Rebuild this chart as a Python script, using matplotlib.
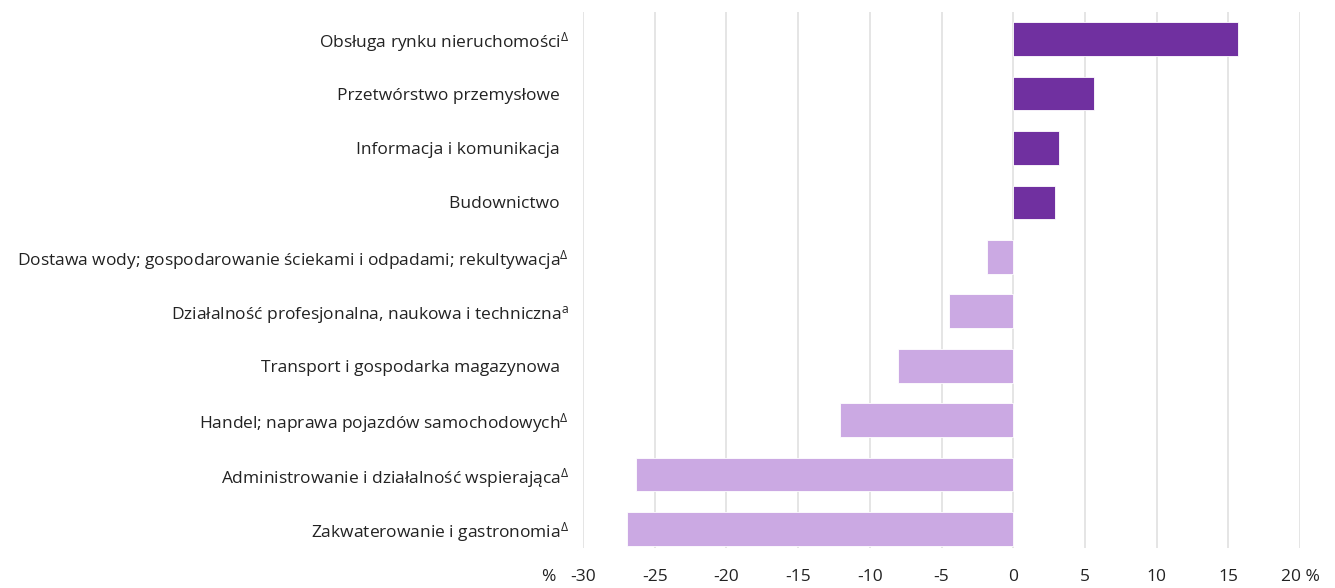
import matplotlib
matplotlib.use("Agg")
import matplotlib.pyplot as plt

plt.rcParams['font.family'] = ['Open Sans', 'DejaVu Sans']
plt.rcParams['mathtext.fontset'] = 'custom'
plt.rcParams['mathtext.rm'] = 'Open Sans'
plt.rcParams['mathtext.it'] = 'Open Sans'

categories = [
    "Obsługa rynku nieruchomości",
    "Przetwórstwo przemysłowe",
    "Informacja i komunikacja",
    "Budownictwo",
    "Dostawa wody; gospodarowanie ściekami i odpadami; rekultywacja",
    "Działalność profesjonalna, naukowa i techniczna",
    "Transport i gospodarka magazynowa",
    "Handel; naprawa pojazdów samochodowych",
    "Administrowanie i działalność wspierająca",
    "Zakwaterowanie i gastronomia",
]
footnotes = ["Δ", "", "", "", "Δ", "a", "", "Δ", "Δ", "Δ"]
values = [15.7, 5.6, 3.2, 2.9, -1.8, -4.5, -8.0, -12.1, -26.3, -26.9]
xticks = [-30, -25, -20, -15, -10, -5, 0, 5, 10, 15, 20]
xtick_labels = ["-30", "-25", "-20", "-15", "-10", "-5", "0", "5", "10", "15", "20 %"]

dark = "#7030A0"
light = "#CBA9E3"

fig = plt.figure(figsize=(13.35, 5.88), dpi=100)
ax = fig.add_axes([583/1335, 40/588, (1300-583)/1335, 536/588])

ypos = list(range(len(categories)))
colors = [dark if v > 0 else light for v in values]
ax.barh(ypos, values, height=0.62, color=colors, edgecolor="white", linewidth=0.6, zorder=3)

ax.set_xlim(-30, 20)
ax.set_ylim(len(categories) - 1 + 0.35, -0.5)
ax.set_xticks(xticks)
ax.set_xticklabels(xtick_labels, fontsize=12.5, color="#222222")
ax.set_yticks(ypos)
labels = []
for c, f in zip(categories, footnotes):
    if f == "Δ":
        labels.append(c + r"$^{\Delta}$")
    elif f == "a":
        labels.append(c + r"$^{\mathrm{a}}$")
    else:
        labels.append(c + "  ")
ax.set_yticklabels(labels, fontsize=12.5, color="#222222")
ax.tick_params(axis="both", length=0)
ax.tick_params(axis="y", pad=10)
ax.tick_params(axis="x", pad=15)
ax.grid(axis="x", color="#e3e3e3", linewidth=1.3, zorder=0)
for s in ax.spines.values():
    s.set_visible(False)

fig.text(548/1335, 1 - 577/588, "%", fontsize=12.5, color="#222222", ha="center", va="center")

fig.savefig("out.png", dpi=100, facecolor="white")
